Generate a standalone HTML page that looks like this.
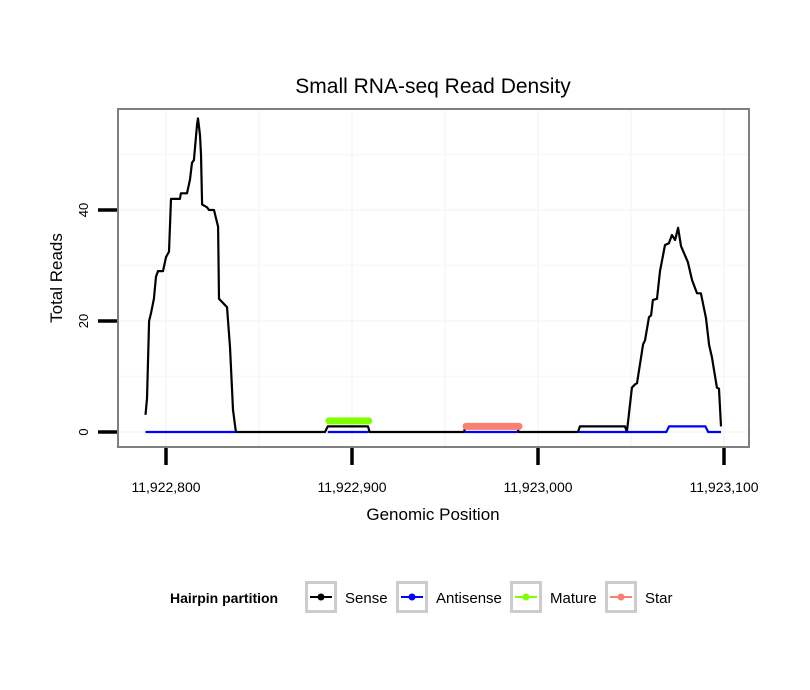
<!DOCTYPE html>
<html><head><meta charset="utf-8"><style>
html,body{margin:0;padding:0;background:#fff;}
svg{display:block;font-family:"Liberation Sans",sans-serif;}
</style></head><body>
<svg id="chart" width="810" height="690">
<rect x="0" y="0" width="810" height="690" fill="#fff"/>
<text x="433" y="93" font-size="21" text-anchor="middle">Small RNA-seq Read Density</text>
<rect x="118" y="109" width="631" height="338" fill="#fff"/>
<g id="grid"></g>
<g id="series"></g>
<rect x="118" y="109" width="631" height="338" fill="none" stroke="#7f7f7f" stroke-width="2"/>
<g id="axes"></g>
<text x="433" y="520" font-size="17" text-anchor="middle">Genomic Position</text>
<text transform="translate(62,278) rotate(-90)" font-size="17" text-anchor="middle">Total Reads</text>
<g>
<text x="170" y="603" font-size="14" font-weight="bold">Hairpin partition</text>
<g id="legend-items"></g>
</g>
</svg>
<script>
const base = 11922800;
const xTicks = [11922800, 11922900, 11923000, 11923100];
const xTickLabels = ["11,922,800", "11,922,900", "11,923,000", "11,923,100"];
const yTicks = [0, 20, 40];
const senseOffsets = [-11,-10.2,-9.1,-8,-6.5,-5.4,-4.3,-1.6,0,1.6,2.7,7.5,8,11.3,12.9,14,15,16.7,17.2,18.3,18.8,19.4,22,23.1,25.8,26.9,28,28.5,32.8,34.4,36,37.6,85.5,87,108.6,109.5,160.3,160.8,189,189.5,221.5,222.5,246.8,247.8,250.5,252.2,253.2,256.5,257.5,259.7,260.8,261.8,264,265.6,268.3,270.4,272,273.7,275.3,276.9,280.6,282.8,285.5,287.6,290.3,292,293.5,296.2,297.3,298.4];
const senseValues = [3.1,6,20,21.5,24,28,29,29,31.5,32.5,42,42,43,43,45.5,48.5,49,55.5,56.5,53.5,50,41,40.5,40,40,38.5,37,24,22.5,15.3,4,0,0,1,1,0,0,1,1,0,0,1,1,0,8,8.6,8.8,15.8,16.5,20.7,21,23.8,24,29,33.7,34,35.5,34.6,36.8,33.5,30.6,27.4,25,25,20.5,15.7,13.5,8,7.8,1];
const antiOffsets = [-11,37.6,null,87,109,null,160.8,189,null,222,269,270.5,290,291.5,298.4];
const antiValues = [0,0,null,0,0,null,0,0,null,0,0,1,1,0,0];
const matureOffsets = [87.6,109];
const matureValues = [2,2];
const starOffsets = [161.3,189.8];
const starValues = [1,1];
const NS = "http://www.w3.org/2000/svg";
function xs(pos){ return 166 + (pos - base) * 1.86; }
function xo(off){ return 166 + off * 1.86; }
function ys(v){ return 432 - v * 5.55; }
function mk(tag, attrs, parent){ const e=document.createElementNS(NS,tag); for(const k in attrs) e.setAttribute(k,attrs[k]); parent.appendChild(e); return e; }
const grid=document.getElementById('grid');
[11922850,11922950,11923050].concat(xTicks).forEach(p=>{
  const l=mk('line',{x1:xs(p),x2:xs(p),y1:110,y2:446,stroke:'#f8f8f8','stroke-width':2},grid);
  
  
});
[10,30,50].concat(yTicks).forEach(v=>{
  const l=mk('line',{x1:119,x2:748,y1:ys(v),y2:ys(v),stroke:'#f8f8f8','stroke-width':2},grid);
  
  
});
function pathOf(offs, vals){
  let d='', pen=false;
  for(let i=0;i<offs.length;i++){
    if(offs[i]===null){pen=false;continue;}
    d += (pen?'L':'M') + xo(offs[i]).toFixed(1) + ',' + ys(vals[i]).toFixed(1);
    pen=true;
  }
  return d;
}
const ser=document.getElementById('series');
const sp=mk('path',{d:pathOf(senseOffsets,senseValues),fill:'none',stroke:'#000','stroke-width':2.2,'stroke-linejoin':'round'},ser);


const ap=mk('path',{d:pathOf(antiOffsets,antiValues),fill:'none',stroke:'#0000ff','stroke-width':2.2},ser);


const mp=mk('path',{d:pathOf(matureOffsets,matureValues),fill:'none',stroke:'#7fff00','stroke-width':7,'stroke-linecap':'round'},ser);


const tp=mk('path',{d:pathOf(starOffsets,starValues),fill:'none',stroke:'#fa8072','stroke-width':7,'stroke-linecap':'round'},ser);


const axes=document.getElementById('axes');
xTicks.forEach((p,i)=>{
  const t=mk('line',{x1:xs(p),x2:xs(p),y1:448,y2:465,stroke:'#000','stroke-width':3.5},axes);
  
  
  const lb=mk('text',{x:xs(p),y:492,'font-size':14,'text-anchor':'middle'},axes);
  lb.textContent=xTickLabels[i];
  
  
});
yTicks.forEach(v=>{
  const t=mk('line',{x1:98,x2:117,y1:ys(v),y2:ys(v),stroke:'#000','stroke-width':3.5},axes);
  
  
  const lb=mk('text',{transform:'translate(88,'+ys(v)+') rotate(-90)','font-size':13,'text-anchor':'middle'},axes);
  lb.textContent=String(v);
  
  
});
const legendNames=["Sense","Antisense","Mature","Star"];
const legendColors=["#000","#0000ff","#7fff00","#fa8072"];
const legendX=[305,396,510,605];
const li=document.getElementById('legend-items');
legendNames.forEach((n,i)=>{
  const x=legendX[i];
  const b=mk('rect',{x:x+1.5,y:582.5,width:29,height:29,fill:'#fff',stroke:'#cccccc','stroke-width':3},li);
  
  
  mk('line',{x1:x+5,x2:x+27,y1:597,y2:597,stroke:legendColors[i],'stroke-width':2},li);
  mk('circle',{cx:x+16,cy:597,r:3.5,fill:legendColors[i]},li);
  const t=mk('text',{x:x+40,y:603,'font-size':15},li);
  t.textContent=n;
  
  
});
</script>
</body></html>
